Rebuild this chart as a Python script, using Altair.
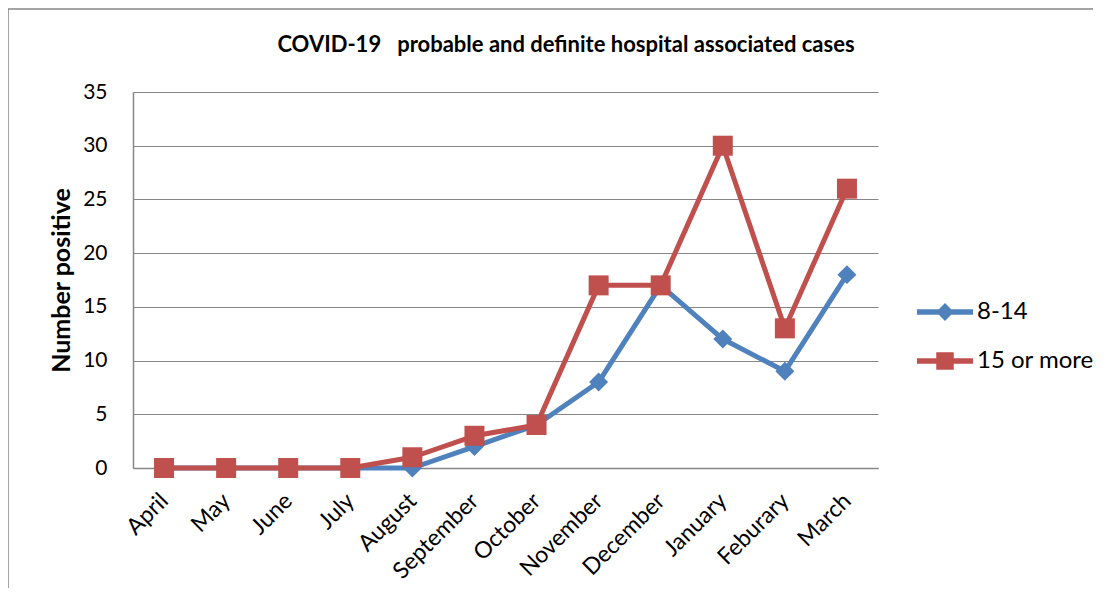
import altair as alt
import pandas as pd

months = ["April", "May", "June", "July", "August", "September", "October",
          "November", "December", "January", "Feburary", "March"]
series_names = ["8-14", "15 or more"]
vals_8_14 = [0, 0, 0, 0, 0, 2, 4, 8, 17, 12, 9, 18]
vals_15_more = [0, 0, 0, 0, 1, 3, 4, 17, 17, 30, 13, 26]
colors = ["#4F81BD", "#C0504D"]
title_text = "COVID-19   probable and definite hospital associated cases"

rows = []
for i, m in enumerate(months):
    rows.append({"month": m, "series": series_names[0], "value": vals_8_14[i]})
for i, m in enumerate(months):
    rows.append({"month": m, "series": series_names[1], "value": vals_15_more[i]})
df = pd.DataFrame(rows)

FONT = "Lato"
GRID = "#868686"

blue_path = "M-1.22,-0.12H1.22V0.12H-1.22Z M0,-0.39L0.39,0L0,0.39L-0.39,0Z"
red_path = "M-1.22,-0.12H1.22V0.12H-1.22Z M-0.38,-0.38H0.38V0.38H-0.38Z"

x_enc = alt.X("month:N", sort=months,
              scale=alt.Scale(type="point", padding=0.5),
              axis=alt.Axis(title=None, labelAngle=-45, labelFontSize=23,
                            labelFont=FONT, labelColor="black", ticks=False,
                            labelAlign="right", labelBaseline="middle",
                            labelPadding=29, domainColor=GRID, domainWidth=1.5,
                            grid=False))
y_enc = alt.Y("value:Q",
              scale=alt.Scale(domain=[0, 35], nice=False),
              axis=alt.Axis(title="Number positive", values=[0, 5, 10, 15, 20, 25, 30, 35],
                            titleFont=FONT, titleFontSize=25, titleFontWeight="bold",
                            titleColor="black", titleX=-64, titleY=188,
                            titleAngle=-90, titleAlign="center", titleBaseline="alphabetic",
                            labelFont=FONT, labelFontSize=21, labelColor="black",
                            labelPadding=26, ticks=False, domainColor=GRID,
                            domainWidth=1.5, gridColor=GRID, gridWidth=1.2))

def make_legend():
    return alt.Legend(
        orient="none", legendX=789, legendY=197, title=None,
        symbolSize=2116, rowPadding=14, labelOffset=9, labelFontSize=24,
        labelFont=FONT, labelColor="black", padding=0,
        symbolStrokeWidth=0, symbolOpacity=1)

frame_df = pd.DataFrame({"a": [0]})
frame_top = alt.Chart(frame_df).mark_rule(stroke=GRID, strokeWidth=1.5).encode(
    x=alt.value(-125), x2=alt.value(1400), y=alt.value(-83))
frame_left = alt.Chart(frame_df).mark_rule(stroke=GRID, strokeWidth=1.5).encode(
    x=alt.value(-125), y=alt.value(-83), y2=alt.value(900))

title_layer = alt.Chart(frame_df).mark_text(
    text=title_text.replace("   ", "\u00a0\u00a0 "), font=FONT, fontSize=22,
    fontWeight="bold", color="black", align="center", baseline="middle"
).encode(x=alt.value(433), y=alt.value(-47))

def series_layers(name, color, shape, size):
    base = alt.Chart(df).transform_filter(alt.datum.series == name)
    line = base.mark_line(strokeWidth=5, strokeJoin="round", color=color).encode(
        x=x_enc, y=y_enc)
    pts = base.mark_point(filled=True, opacity=1, size=size, shape=shape,
                          color=color).encode(x=x_enc, y=y_enc)
    return [line, pts]

blue_layers = series_layers(series_names[0], colors[0], "diamond", 360)
red_layers = series_layers(series_names[1], colors[1], "square", 400)

legend_layer = alt.Chart(df).transform_filter("false").mark_point(
    filled=True, opacity=1
).encode(
    x=x_enc, y=y_enc,
    fill=alt.Fill("series:N", sort=series_names,
                  scale=alt.Scale(domain=series_names, range=colors),
                  legend=make_legend()),
    shape=alt.Shape("series:N", sort=series_names,
                    scale=alt.Scale(domain=series_names, range=[blue_path, red_path]),
                    legend=make_legend()),
)

chart = alt.layer(frame_top, frame_left, title_layer, *blue_layers, *red_layers,
                  legend_layer).properties(
    width=745, height=376,
    padding={"left": 125, "top": 84, "right": 215, "bottom": 120},
    autosize=alt.AutoSizeParams(type="none"),
    background="white",
).configure_view(stroke=None)

chart.save("out.html", embed_options={"renderer": "svg", "actions": False})
